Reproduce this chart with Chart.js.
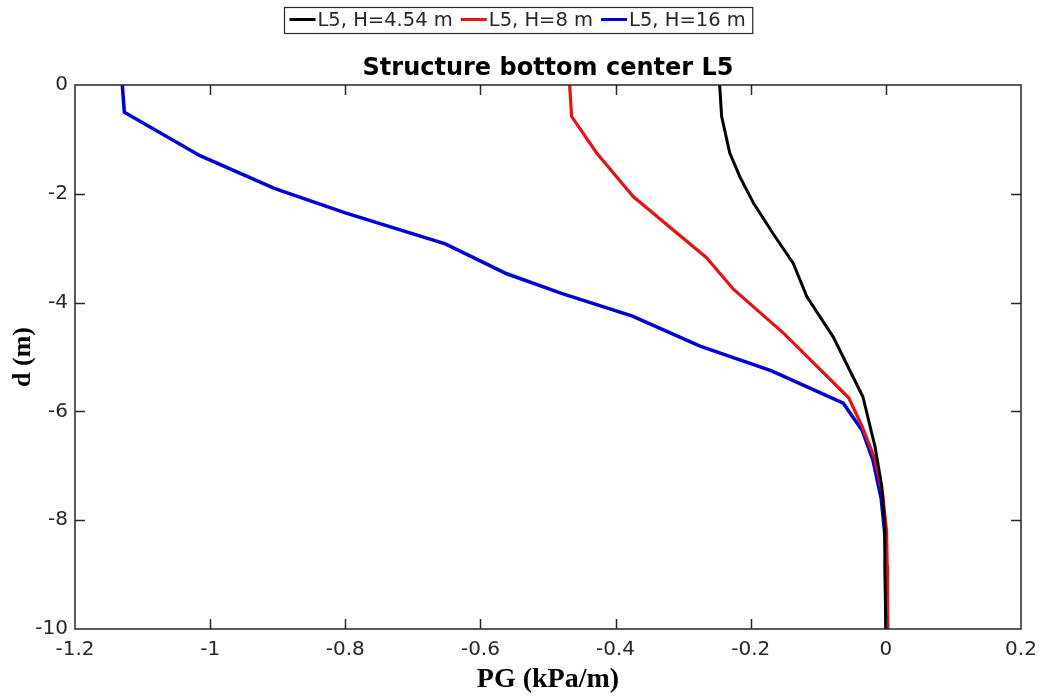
<!DOCTYPE html>
<html>
<head>
<meta charset="utf-8">
<script src="https://cdn.jsdelivr.net/npm/chart.js@4.4.0/dist/chart.umd.min.js"></script>
<style>
  html, body { margin: 0; padding: 0; background: #ffffff; }
  #wrap { width: 1042px; height: 698px; position: relative; }
</style>
</head>
<body>
<div id="wrap"><canvas id="c" width="1042" height="698"></canvas></div>
<script>
// ---- data ----
const seriesLabels = ['L5, H=4.54 m', 'L5, H=8 m', 'L5, H=16 m'];

const depthH454 = [0, -0.58, -1.25, -1.69, -2.17, -2.73, -3.28, -3.89, -4.63, -5.73, -6.65, -7.38, -8.12, -8.85, -9.7, -10];
const pgH454    = [-0.246, -0.243, -0.231, -0.216, -0.196, -0.167, -0.137, -0.117, -0.078, -0.034, -0.016, -0.006, -0.0015, -0.0015, -0.0005, -0.0003];

const depthH8 = [0, -0.58, -1.25, -2.05, -3.18, -3.75, -4.58, -5.75, -6.28, -6.85, -7.5, -8.2, -8.85, -10];
const pgH8    = [-0.468, -0.465, -0.428, -0.374, -0.265, -0.226, -0.15, -0.055, -0.035, -0.017, -0.005, 0.001, 0.002, 0.0025];

const depthH16 = [0, -0.5, -1.3, -1.9, -2.35, -2.92, -3.47, -3.83, -4.25, -4.8, -5.25, -5.85, -6.35, -6.9, -7.6, -8.2, -8.85, -10];
const pgH16    = [-1.130, -1.127, -1.015, -0.905, -0.80, -0.652, -0.561, -0.48, -0.375, -0.275, -0.17, -0.063, -0.035, -0.019, -0.007, -0.002, 0.001, 0.0025];

const xTicks = [-1.2, -1, -0.8, -0.6, -0.4, -0.2, 0, 0.2];
const yTicks = [-10, -8, -6, -4, -2, 0];

const titleText = 'Structure bottom center L5';
const xTitle = 'PG (kPa/m)';
const yTitle = 'd (m)';

// ---- build ----
function pts(xs, ys) { return xs.map((x, i) => ({ x: x, y: ys[i] })); }

const AXIS = '#262626';

const boxPlugin = {
  id: 'boxAndTicks',
  afterDatasetsDraw(chart) {
    const { ctx, chartArea: a, scales } = chart;
    ctx.save();
    ctx.strokeStyle = AXIS;
    ctx.lineWidth = 1.5;
    ctx.strokeRect(a.left, a.top, a.right - a.left, a.bottom - a.top);
    const L = 10;
    ctx.beginPath();
    xTicks.forEach(v => {
      const px = Math.round(scales.x.getPixelForValue(v)) + 0.5;
      if (px <= a.left + 1 || px >= a.right - 1) return;
      ctx.moveTo(px, a.bottom); ctx.lineTo(px, a.bottom - L);
      ctx.moveTo(px, a.top); ctx.lineTo(px, a.top + L);
    });
    yTicks.forEach(v => {
      const py = Math.round(scales.y.getPixelForValue(v)) + 0.5;
      if (py <= a.top + 1 || py >= a.bottom - 1) return;
      ctx.moveTo(a.left, py); ctx.lineTo(a.left + L, py);
      ctx.moveTo(a.right, py); ctx.lineTo(a.right - L, py);
    });
    ctx.stroke();
    ctx.restore();
  },
  afterDraw(chart) {
    const { ctx, chartArea: a } = chart;
    ctx.save();
    // title
    ctx.fillStyle = '#000000';
    ctx.font = 'bold 24px "DejaVu Sans"';
    ctx.textAlign = 'center';
    ctx.textBaseline = 'alphabetic';
    ctx.fillText(titleText, (a.left + a.right) / 2, 75);
    // legend
    ctx.font = '19.5px "DejaVu Sans"';
    ctx.textBaseline = 'middle';
    ctx.textAlign = 'left';
    const lineW = 26, gapLT = 2, gapItem = 8, padL = 5, padR = 7;
    const items = chart.data.datasets.map(d => ({ label: d.label, color: d.borderColor, w: ctx.measureText(d.label).width }));
    let total = padL + padR;
    items.forEach((it, i) => { total += lineW + gapLT + it.w + (i < items.length - 1 ? gapItem : 0); });
    const cx = 518.5;
    const bx = Math.round(cx - total / 2) + 0.5;
    const by = 7.5, bh = 26;
    ctx.fillStyle = '#ffffff';
    ctx.fillRect(bx, by, total, bh);
    ctx.strokeStyle = AXIS;
    ctx.lineWidth = 1.2;
    ctx.strokeRect(bx, by, total, bh);
    let x = bx + padL;
    items.forEach(it => {
      ctx.strokeStyle = it.color;
      ctx.lineWidth = 3;
      ctx.beginPath();
      ctx.moveTo(x, 19.5); ctx.lineTo(x + lineW, 19.5);
      ctx.stroke();
      x += lineW + gapLT;
      ctx.fillStyle = AXIS;
      ctx.fillText(it.label, x, 21);
      x += it.w + gapItem;
    });
    ctx.restore();
  }
};

new Chart(document.getElementById('c'), {
  type: 'scatter',
  data: {
    datasets: [
      { label: seriesLabels[0], data: pts(pgH454, depthH454), borderColor: '#000000', borderWidth: 3 },
      { label: seriesLabels[1], data: pts(pgH8, depthH8), borderColor: '#e41414', borderWidth: 3.2 },
      { label: seriesLabels[2], data: pts(pgH16, depthH16), borderColor: '#0000d4', borderWidth: 3.5 }
    ].map(d => Object.assign(d, { showLine: true, pointRadius: 0, pointHoverRadius: 0, fill: false, tension: 0, backgroundColor: d.borderColor }))
  },
  options: {
    responsive: false,
    animation: false,
    events: [],
    layout: { padding: { top: 85, right: 21, bottom: 0, left: 0 } },
    plugins: { legend: { display: false }, title: { display: false }, tooltip: { enabled: false } },
    scales: {
      x: {
        type: 'linear', position: 'bottom', min: -1.2, max: 0.2,
        afterBuildTicks: s => { s.ticks = xTicks.map(v => ({ value: v })); },
        afterFit: s => { s.height = 69; s.paddingLeft = 0; s.paddingRight = 0; },
        grid: { display: false, drawTicks: false },
        border: { display: false },
        ticks: {
          color: AXIS, padding: 9, maxRotation: 0, autoSkip: false,
          font: { family: 'DejaVu Sans', size: 20 },
          callback: v => String(Number(v.toFixed(1)))
        },
        title: { display: true, text: xTitle, color: '#000000', padding: { top: 0, bottom: 1 },
          font: { family: 'Liberation Serif', size: 28, weight: 'bold' } }
      },
      y: {
        type: 'linear', position: 'left', min: -10, max: 0,
        afterBuildTicks: s => { s.ticks = yTicks.map(v => ({ value: v })); },
        afterFit: s => { s.width = 75; s.paddingTop = 0; s.paddingBottom = 0; },
        grid: { display: false, drawTicks: false },
        border: { display: false },
        ticks: {
          color: AXIS, padding: 7, autoSkip: false,
          font: { family: 'DejaVu Sans', size: 20 },
          callback: v => String(v)
        },
        title: { display: true, text: yTitle, color: '#000000', padding: { top: 8, bottom: 0 },
          font: { family: 'Liberation Serif', size: 26, weight: 'bold' } }
      }
    }
  },
  plugins: [boxPlugin]
});
</script>
</body>
</html>
